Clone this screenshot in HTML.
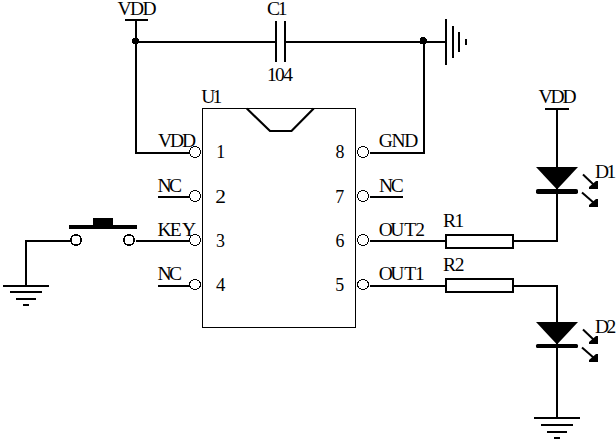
<!DOCTYPE html>
<html><head><meta charset="utf-8">
<style>
html,body{margin:0;padding:0;background:#fff;}
body{width:616px;height:447px;overflow:hidden;}
svg{display:block;}
text{font-family:"Liberation Serif",serif;font-size:19.5px;fill:#000;}
.w{stroke:#000;stroke-width:2;fill:none;shape-rendering:crispEdges;}
.t{stroke:#000;stroke-width:1;fill:none;shape-rendering:crispEdges;}
.d{stroke:#000;stroke-width:2;fill:none;}
.pin{stroke:#000;stroke-width:1;fill:#fff;shape-rendering:crispEdges;}
.sw{stroke:#000;stroke-width:1.5;fill:#fff;shape-rendering:crispEdges;}
.k{fill:#000;stroke:none;}
</style></head>
<body>
<svg width="616" height="447" viewBox="0 0 616 447">
<rect width="616" height="447" fill="#fff"/>

<!-- IC body -->
<rect class="t" x="202.5" y="108.5" width="153" height="219"/>
<polyline class="d" style="stroke-width:2.2" points="246.8,108.5 270,131 291.5,131 313.7,108.5"/>

<!-- top VDD rail -->
<line class="w" x1="125" y1="20" x2="148" y2="20"/>
<polyline class="w" points="136,20 136,153 190,153"/>
<line class="w" x1="136" y1="42" x2="275" y2="42"/>
<circle class="k" cx="135.5" cy="41" r="3.5" shape-rendering="crispEdges"/>
<!-- capacitor -->
<line class="w" x1="276" y1="21" x2="276" y2="62"/>
<line class="w" x1="285" y1="21" x2="285" y2="62"/>
<line class="w" x1="285" y1="42" x2="445" y2="42"/>
<circle class="k" cx="423.3" cy="40.8" r="3.7" shape-rendering="crispEdges"/>
<!-- top ground -->
<line class="w" x1="446" y1="19" x2="446" y2="65"/>
<line class="w" x1="453" y1="26" x2="453" y2="58"/>
<line class="w" x1="459" y1="32" x2="459" y2="52"/>
<line class="w" x1="466" y1="39" x2="466" y2="45"/>
<!-- GND wire -->
<polyline class="w" points="424,42 424,153 370,153"/>

<!-- left pins wires -->
<line class="w" x1="158" y1="197" x2="190" y2="197"/>
<line class="w" x1="136" y1="241" x2="190" y2="241"/>
<line class="w" x1="158" y1="286" x2="190" y2="286"/>
<!-- right pin wires -->
<line class="w" x1="370" y1="197" x2="403" y2="197"/>
<line class="w" x1="370" y1="241" x2="446" y2="241"/>
<line class="w" x1="370" y1="286" x2="446" y2="286"/>

<!-- pin circles -->
<circle class="pin" cx="195" cy="152" r="5.5"/>
<circle class="pin" cx="195" cy="196" r="5.5"/>
<circle class="pin" cx="195" cy="240" r="5.5"/>
<ellipse class="pin" cx="195" cy="284.5" rx="5.5" ry="5"/>
<circle class="pin" cx="363" cy="152" r="5.5"/>
<circle class="pin" cx="363" cy="196" r="5.5"/>
<circle class="pin" cx="363" cy="240" r="5.5"/>
<ellipse class="pin" cx="363" cy="284.5" rx="5.5" ry="5"/>

<!-- resistors -->
<rect class="w" x="446" y="235" width="67" height="13" fill="#fff"/>
<rect class="w" x="446" y="279" width="67" height="13" fill="#fff"/>
<polyline class="w" points="513,241 557,241 557,109"/>
<polyline class="w" points="513,286 557,286 557,418"/>
<line class="w" x1="545" y1="109" x2="569" y2="109"/>

<!-- LED D1 -->
<polygon class="k" points="536,167 578,167 557,189.5"/>
<rect class="k" x="536" y="189" width="42" height="5" rx="1.8"/>
<!-- LED D2 -->
<polygon class="k" points="536,322 578,322 557,344.5"/>
<rect class="k" x="536" y="344" width="42" height="4" rx="1.5"/>
<!-- arrows -->
<g id="ar1">
<line class="d" x1="583" y1="174.5" x2="594" y2="185"/>
<polygon class="k" points="598,189 598,181 596,181 589,187 589,189"/>
</g>
<g>
<line class="d" x1="582" y1="192.5" x2="594" y2="203"/>
<polygon class="k" points="598,207 598,199 596,199 589,205 589,207"/>
</g>
<g>
<line class="d" x1="583" y1="329.5" x2="594" y2="340"/>
<polygon class="k" points="598,344 598,336 596,336 589,342 589,344"/>
</g>
<g>
<line class="d" x1="582" y1="347.5" x2="594" y2="358"/>
<polygon class="k" points="598,362 598,354 596,354 589,360 589,362"/>
</g>

<!-- bottom right ground -->
<line class="w" x1="534" y1="418" x2="580" y2="418"/>
<line class="w" x1="541" y1="425" x2="573" y2="425"/>
<line class="w" x1="547" y1="432" x2="567" y2="432"/>
<line class="w" x1="554" y1="438" x2="560" y2="438"/>

<!-- switch -->
<rect class="k" x="69" y="225" width="68" height="4"/>
<rect class="k" x="93" y="218" width="20" height="8"/>
<polyline class="w" points="70,241 26,241 26,286"/>
<circle class="sw" cx="76" cy="240" r="5.15"/>
<circle class="sw" cx="129" cy="240" r="5.15"/>
<!-- left ground -->
<line class="w" x1="3" y1="286" x2="49" y2="286"/>
<line class="w" x1="10" y1="292" x2="42" y2="292"/>
<line class="w" x1="16" y1="299" x2="36" y2="299"/>
<line class="w" x1="23" y1="305" x2="29" y2="305"/>

<!-- text -->
<text x="117.5" y="15" style="letter-spacing:-1.55px">VDD</text>
<text x="267.0" y="15" style="letter-spacing:-2.29px">C1</text>
<text x="266.9" y="81" style="letter-spacing:-1.57px">104</text>
<text x="201.3" y="103" style="letter-spacing:-2.9px">U1</text>
<text x="157.9" y="147" style="letter-spacing:-2.07px">VDD</text>
<text x="157.5" y="192" style="letter-spacing:-2.60px">NC</text>
<text x="157.5" y="236">K<tspan dx="-1.9">E</tspan><tspan dx="0.3">Y</tspan></text>
<text x="157.5" y="280" style="letter-spacing:-2.60px">NC</text>
<text transform="translate(216.14,158) scale(0.92,1)">1</text>
<text transform="translate(215.36,202.5) scale(1.1,1)">2</text>
<text transform="translate(215.97,246.5) scale(0.92,1)">3</text>
<text transform="translate(215.88,291) scale(0.96,1)">4</text>
<text transform="translate(335.60,158) scale(0.92,1)">8</text>
<text transform="translate(335.21,202.5) scale(0.92,1)">7</text>
<text transform="translate(335.48,246.5) scale(0.92,1)">6</text>
<text transform="translate(335.28,291) scale(0.92,1)">5</text>
<text x="378.8" y="147" style="letter-spacing:-1.38px">GND</text>
<text x="379.0" y="192" style="letter-spacing:-2.25px">NC</text>
<text x="378.8" y="236">O<tspan dx="-2.7">U</tspan><tspan dx="-0.1">T</tspan><tspan dx="-0.95">2</tspan></text>
<text x="378.8" y="280">O<tspan dx="-2.7">U</tspan><tspan dx="-0.1">T</tspan><tspan dx="-1.1">1</tspan></text>
<text x="443.1" y="227" style="letter-spacing:-1.6px">R1</text>
<text x="443.1" y="271" style="letter-spacing:-1.42px">R2</text>
<text x="538.4" y="103" style="letter-spacing:-2.00px">VDD</text>
<text x="595" y="178" style="letter-spacing:-2.7px">D1</text>
<text x="595" y="333" style="letter-spacing:-2.59px">D2</text>
</svg>
</body></html>
